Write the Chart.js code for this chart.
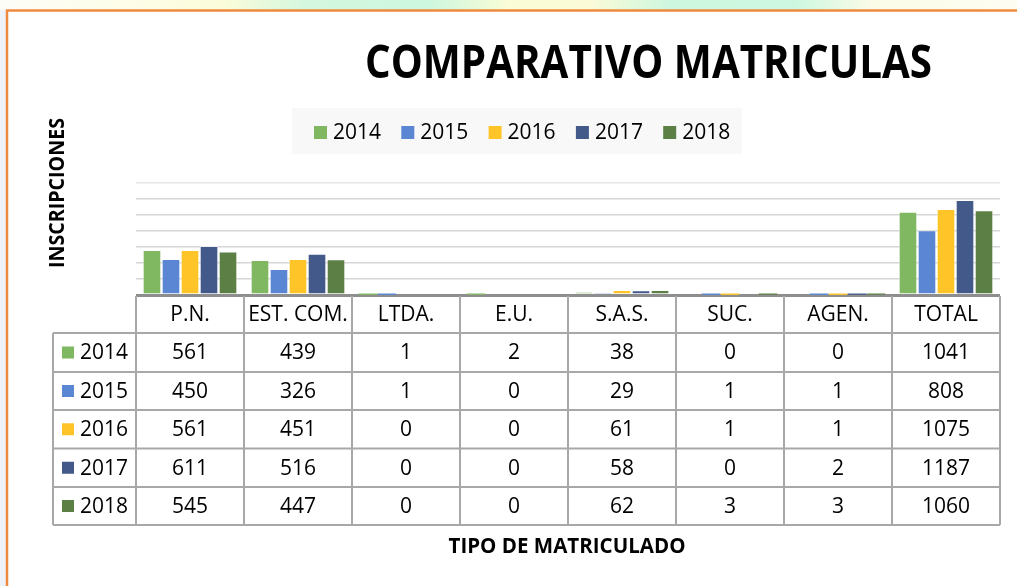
<!DOCTYPE html>
<html>
<head>
<meta charset="utf-8">
<script src="https://cdn.jsdelivr.net/npm/chart.js@4.4.1/dist/chart.umd.min.js"></script>
<style>
html,body{margin:0;padding:0;background:#fff;}
canvas{display:block;}
</style>
</head>
<body>
<canvas id="c" width="1017" height="586"></canvas>
<script>
const categories = ["P.N.", "EST. COM.", "LTDA.", "E.U.", "S.A.S.", "SUC.", "AGEN.", "TOTAL"];
const seriesNames = ["2014", "2015", "2016", "2017", "2018"];
const v2014 = [561, 439, 1, 2, 38, 0, 0, 1041];
const v2015 = [450, 326, 1, 0, 29, 1, 1, 808];
const v2016 = [561, 451, 0, 0, 61, 1, 1, 1075];
const v2017 = [611, 516, 0, 0, 58, 0, 2, 1187];
const v2018 = [545, 447, 0, 0, 62, 3, 3, 1060];
const seriesValues = [v2014, v2015, v2016, v2017, v2018];
const seriesColors = ["#80b862", "#5b86d3", "#ffc528", "#42598a", "#5b7f45"];
const chartTitle = "COMPARATIVO MATRICULAS";
const yTitle = "INSCRIPCIONES";
const xTitle = "TIPO DE MATRICULADO";

function fitText(ctx, text, x, y, width, font, align) {
  ctx.save();
  ctx.font = font;
  const w = ctx.measureText(text).width;
  const s = width / w;
  ctx.translate(x, y);
  ctx.scale(s, 1);
  ctx.textAlign = align || 'center';
  ctx.fillText(text, 0, 0);
  ctx.restore();
}

const decor = {
  id: 'decor',
  beforeDraw(chart) {
    const ctx = chart.ctx;
    ctx.save();
    ctx.fillStyle = '#ffffff';
    ctx.fillRect(0, 0, 1017, 586);
    // top slide strip
    const g = ctx.createLinearGradient(0, 0, 1017, 0);
    g.addColorStop(0.00, '#fdfdf8');
    g.addColorStop(0.13, '#fdfde8');
    g.addColorStop(0.22, '#fbfcd9');
    g.addColorStop(0.30, '#d4f7df');
    g.addColorStop(0.42, '#cdf7df');
    g.addColorStop(0.50, '#f9fcd6');
    g.addColorStop(0.58, '#fbfbd8');
    g.addColorStop(0.66, '#cdf7df');
    g.addColorStop(0.78, '#cdf7e0');
    g.addColorStop(0.86, '#fbfce8');
    g.addColorStop(1.00, '#fdfdf2');
    ctx.fillStyle = g;
    ctx.fillRect(0, 0, 1017, 10);
    // left strip
    ctx.fillStyle = '#eef3fa';
    ctx.fillRect(0, 10, 6, 576);
    // orange border
    ctx.strokeStyle = '#ee8a3f';
    ctx.lineWidth = 2.5;
    ctx.beginPath();
    ctx.moveTo(7, 586);
    ctx.lineTo(7, 10.5);
    ctx.lineTo(1017, 10.5);
    ctx.stroke();

    // title
    ctx.fillStyle = '#000000';
    fitText(ctx, chartTitle, 648.5, 78, 567, 'bold 46px "Open Sans"');

    // y title
    ctx.save();
    ctx.translate(64, 193);
    ctx.rotate(-Math.PI / 2);
    fitText(ctx, yTitle, 0, 0, 150, 'bold 22px "Open Sans"');
    ctx.restore();

    // x title
    fitText(ctx, xTitle, 567, 553, 237, 'bold 21px "Open Sans"');

    // legend
    ctx.fillStyle = '#f8f8f8';
    ctx.fillRect(292, 108, 450, 46);
    ctx.font = '21px "Open Sans"';
    ctx.textBaseline = 'middle';
    ctx.textAlign = 'left';
    chart.data.datasets.forEach((ds, i) => {
      const x0 = 314 + i * 87.3;
      ctx.fillStyle = ds.backgroundColor;
      ctx.fillRect(x0, 126, 13, 13);
      ctx.fillStyle = '#000';
      ctx.fillText(ds.label, x0 + 19, 133);
    });
    ctx.restore();
  },
  afterDraw(chart) {
    const ctx = chart.ctx;
    const xs = chart.scales.x;
    const area = chart.chartArea;
    const n = chart.data.labels.length;
    const cw = (area.right - area.left) / n;
    const rows = [296, 333, 372, 410, 448.5, 487, 525];
    const leftX = 53;
    ctx.save();
    ctx.strokeStyle = '#a8a8a8';
    ctx.lineWidth = 2;
    ctx.beginPath();
    for (let r = 1; r < rows.length; r++) {
      ctx.moveTo(leftX, rows[r]);
      ctx.lineTo(area.right, rows[r]);
    }
    ctx.moveTo(leftX, rows[1]);
    ctx.lineTo(leftX, rows[6]);
    for (let i = 0; i <= n; i++) {
      const x = i < n ? xs.getPixelForValue(i) - cw / 2 : xs.getPixelForValue(n - 1) + cw / 2;
      ctx.moveTo(x, rows[0]);
      ctx.lineTo(x, rows[6]);
    }
    ctx.stroke();

    ctx.fillStyle = '#000';
    ctx.font = '21px "Open Sans"';
    ctx.textAlign = 'center';
    ctx.textBaseline = 'middle';
    chart.data.labels.forEach((lab, i) => {
      const cx = xs.getPixelForValue(i);
      ctx.fillText(lab, cx, (rows[0] + rows[1]) / 2 + 1);
    });
    chart.data.datasets.forEach((ds, r) => {
      const cy = (rows[r + 1] + rows[r + 2]) / 2 + 1;
      ctx.fillStyle = ds.backgroundColor;
      ctx.fillRect(62, cy - 7, 12, 12);
      ctx.fillStyle = '#000';
      ctx.textAlign = 'left';
      ctx.fillText(ds.label, 80, cy);
      ctx.textAlign = 'center';
      ds.data.forEach((v, i) => {
        ctx.fillText(String(v), xs.getPixelForValue(i), cy);
      });
    });
    ctx.restore();
  }
};

new Chart(document.getElementById('c'), {
  type: 'bar',
  data: {
    labels: categories,
    datasets: seriesNames.map((name, i) => ({
      label: name,
      data: seriesValues[i],
      backgroundColor: seriesColors[i],
      borderColor: 'rgba(255,255,255,0.55)',
      borderWidth: c => (c.raw !== undefined && c.raw < 10) ? 0 : 1,
      categoryPercentage: 0.88,
      barPercentage: 0.98
    }))
  },
  options: {
    responsive: false,
    animation: false,
    devicePixelRatio: 1,
    layout: { padding: { left: 136, right: 17, top: 183, bottom: 291 } },
    plugins: { legend: { display: false }, title: { display: false }, tooltip: { enabled: false } },
    scales: {
      x: {
        ticks: { display: false },
        grid: { display: false, drawTicks: false },
        border: { display: false }
      },
      y: {
        min: 0,
        max: 1400,
        ticks: { display: false, stepSize: 200 },
        grid: {
          drawTicks: false,
          color: c => c.tick && c.tick.value === 0 ? '#8e8e8e' : (c.tick && c.tick.value === 1400 ? '#e6e6e6' : '#d6d6d6'),
          lineWidth: c => c.tick && c.tick.value === 0 ? 3 : 1.5
        },
        border: { display: false }
      }
    }
  },
  plugins: [decor]
});
</script>
</body>
</html>
